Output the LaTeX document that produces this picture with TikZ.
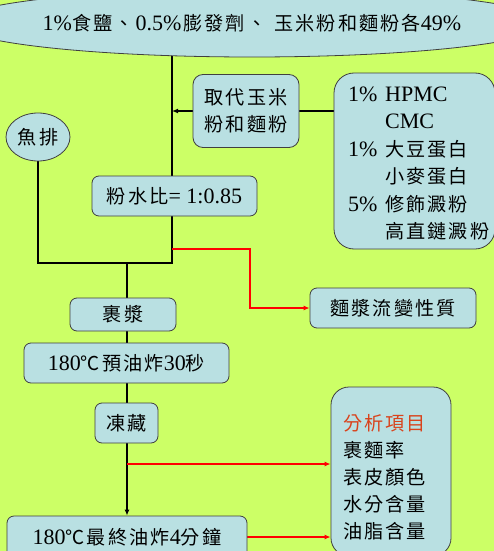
\documentclass[tikz,border=0pt]{standalone}
\usepackage{fontspec}
\setmainfont{Liberation Serif}
\newfontfamily\cjk[LetterSpace=11,Scale=0.87]{Noto Sans CJK TC}
\usetikzlibrary{shapes.geometric,arrows.meta,calc}
\definecolor{bgc}{HTML}{CCFF66}
\definecolor{boxc}{HTML}{B9E0E2}
\definecolor{anac}{HTML}{D9431C}
\pgfdeclarelayer{back}
\pgfdeclarelayer{bg}
\pgfsetlayers{back,bg,main}
\newcommand\cj[1]{{\cjk #1}}
\begin{document}
\begin{tikzpicture}[x=1pt,y=-1pt,
  font=\fontsize{22}{27.4}\selectfont,
  box/.style={draw=black!75, line width=0.8pt, fill=boxc, rounded corners=7pt, inner sep=0pt},
  oval/.style={draw=black!75, line width=0.8pt, fill=boxc, ellipse, inner sep=0pt},
  conn/.style={line width=1.2pt, black},
  tip/.style={-{Latex[length=6pt,width=5pt]}},
  rconn/.style={line width=1.2pt, red, -{Latex[length=6pt,width=5pt]}},
  txt/.style={anchor=west, align=left, inner sep=0pt}]
\begin{pgfonlayer}{back}
\fill[bgc] (0,0) rectangle (494,551);
\end{pgfonlayer}
\useasboundingbox (0,0) rectangle (494,551);

\node[oval, minimum width=470, minimum height=68] (ell) at (252,23)
  {1\%\cj{食鹽、}\hspace{2pt}0.5\%\hspace{2pt}\cj{膨發劑、}\hspace{8pt}\cj{玉米粉和麵粉各}49\%};
\node[oval, minimum width=64, minimum height=48] (fish) at (38,137) {\cj{魚排}};
\node[box, rounded corners=10pt, minimum width=106, minimum height=73, align=center] (qd) at (246,111)
  {\cj{取代玉米}\\\cj{粉和麵粉}};
\node[box, rounded corners=20pt, minimum width=161, minimum height=176] (list) at (414.5,161) {};
\node[txt] (listtxt) at (348,163.5) {%
  \makebox[37pt][l]{1\%}HPMC\\
  \makebox[37pt][l]{}CMC\\
  \makebox[37pt][l]{1\%}\cj{大豆蛋白}\\
  \makebox[37pt][l]{}\cj{小麥蛋白}\\
  \makebox[37pt][l]{5\%}\cj{修飾澱粉}\\
  \makebox[37pt][l]{}\cj{高直鏈澱粉}};
\node[box, minimum width=165, minimum height=40] (ratio) at (174.5,196) {\cj{粉水比}= 1:0.85};
\node[box, minimum width=106, minimum height=33] (coat) at (123,314.5) {\cj{裹漿}};
\node[box, minimum width=205, minimum height=40] (pre) at (126.5,363) {180\cj{℃預油炸}30\cj{秒}};
\node[box, minimum width=166, minimum height=40] (rheo) at (393,308) {\cj{麵漿流變性質}};
\node[box, minimum width=63, minimum height=40] (frz) at (126.5,423) {\cj{凍藏}};
\node[box, minimum width=240, minimum height=42] (final) at (127,537) {180\cj{℃最終油炸}4\cj{分鐘}};
\node[box, rounded corners=18pt, minimum width=120, minimum height=169] (ana) at (391,471.5) {};
\node[txt, font=\fontsize{22}{27}\selectfont] (anatxt) at (343,477.5) {%
  \textcolor{anac}{\cj{分析項目}}\\
  \cj{裹麵率}\\
  \cj{表皮顏色}\\
  \cj{水分含量}\\
  \cj{油脂含量}};

\begin{pgfonlayer}{bg}
\coordinate (tk) at (172,40);
\coordinate (jn) at (127,263);
\coordinate (r1) at (172,249);
\coordinate (r2) at (127,464);
\draw[conn] (tk) -- (tk |- ratio.north);
\draw[conn] (tk |- ratio.south) -- (tk |- jn) -- (fish.south |- jn) -- (fish.south);
\draw[conn] (jn) -- (jn |- coat.north);
\draw[conn] (list.west |- qd.east) -- (qd.east);
\draw[conn, tip] (qd.west) -- (qd.west -| tk);
\draw[conn] (coat.south -| jn) -- (pre.north -| jn);
\draw[conn] (pre.south -| jn) -- (frz.north -| jn);
\draw[conn, tip] (frz.south -| jn) -- (final.north -| jn);
\draw[rconn] (r1) -- ++(78,0) |- (rheo.west);
\draw[rconn] (r2) -- (r2 -| ana.west);
\draw[rconn] (final.east) -- (final.east -| ana.west);
\end{pgfonlayer}
\end{tikzpicture}
\end{document}
